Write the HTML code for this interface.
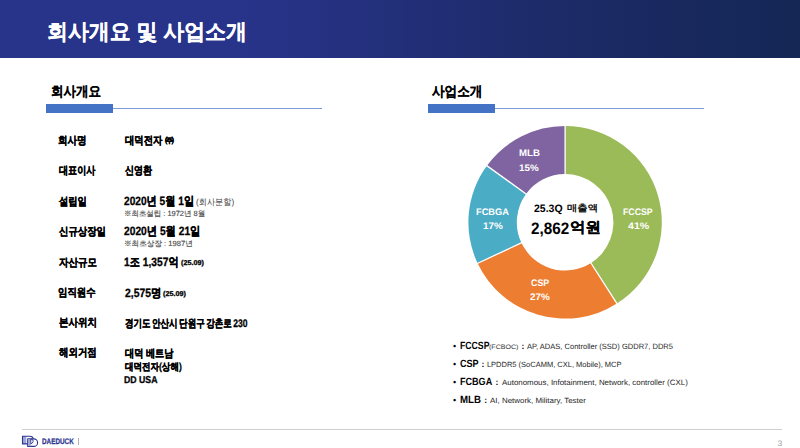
<!DOCTYPE html>
<html lang="ko">
<head>
<meta charset="utf-8">
<title>회사개요 및 사업소개</title>
<style>
html,body{margin:0;padding:0;background:#fff;}
body{width:800px;height:448px;position:relative;overflow:hidden;font-family:"Liberation Sans",sans-serif;color:#000;text-rendering:geometricPrecision;}
.t{position:absolute;white-space:nowrap;line-height:1;transform-origin:0 0;}
#hdr{position:absolute;left:0;top:0;width:800px;height:58.4px;background:linear-gradient(90deg,#28348a 0%,#28348a 30%,#1c2a66 72%,#142755 100%);}
.bar{position:absolute;top:104.3px;height:8.5px;width:67px;background:#4472c4;}
.ln{position:absolute;top:108px;height:1px;background:#7b9bd8;}
</style>
</head>
<body>
<div id="hdr"></div>
<div class="bar" style="left:46px"></div>
<div class="ln" style="left:113px;width:209px"></div>
<div class="bar" style="left:428px"></div>
<div class="ln" style="left:495px;width:209px"></div>

<svg id="donut" style="position:absolute;left:0;top:0" width="800" height="448" viewBox="0 0 800 448">
<path d="M565.10 126.00A96.7 96.3 0 0 1 616.91 303.61L590.98 263.08A48.3 48.3 0 0 0 565.10 174.00Z" fill="#9bbb59"/>
<path d="M616.91 303.61A96.7 96.3 0 0 1 477.60 263.30L521.40 242.87A48.3 48.3 0 0 0 590.98 263.08Z" fill="#ed7d31"/>
<path d="M477.60 263.30A96.7 96.3 0 0 1 486.87 165.70L526.02 193.91A48.3 48.3 0 0 0 521.40 242.87Z" fill="#4bacc6"/>
<path d="M486.87 165.70A96.7 96.3 0 0 1 565.10 126.00L565.10 174.00A48.3 48.3 0 0 0 526.02 193.91Z" fill="#8064a2"/>
<path d="M565.10 175.00L565.10 125.00M590.44 262.24L617.45 304.45M522.30 242.44L476.70 263.73M526.83 194.50L486.06 165.11" stroke="#fff" stroke-width="1.3" fill="none"/>
</svg>

<div id="ftl" style="position:absolute;left:22px;top:429px;width:760px;height:1px;background:#cfcfcf"></div>
<svg id="logo" style="position:absolute;left:0;top:0" width="60" height="448" viewBox="0 0 60 448">
<g fill="none" stroke="#2c3590" stroke-width="1.1" stroke-linejoin="round">
<rect x="22.6" y="436.2" width="3.7" height="7.6" fill="#9fa5d6" stroke="none"/>
<path d="M22.5 436.2H29.6C32 436.2 33.2 437.6 33.4 439.2V443.9H22.5Z"/>
<path d="M27.7 438.9H33.6A4 3.75 0 0 1 33.6 446.4H27.7Z" fill="#fff"/>
<rect x="28" y="439.2" width="2.7" height="6.9" fill="#9fa5d6" stroke="none"/>
<path d="M30.8 439V443.8M30.8 439.2H31.8Q33.4 439.6 33.1 441.6Q32.6 443.4 30.9 443.8" stroke-width="0.9"/>
</g>
</svg>
<div id="sep" style="position:absolute;left:78px;top:438px;width:1px;height:7px;background:#b0b0b0"></div>
<div class="t" id="title" style="left:47.36px;top:21.00px;font-size:22px;font-weight:bold;-webkit-text-stroke:0.15px;color:#fff;transform:scaleX(0.951);">회사개요 및 사업소개</div>
<div class="t" id="h2a" style="left:51.20px;top:83.80px;font-size:14px;font-weight:bold;-webkit-text-stroke:0.12px;transform:scaleX(0.895);">회사개요</div>
<div class="t" id="h2b" style="left:432.36px;top:84.48px;font-size:14px;font-weight:bold;-webkit-text-stroke:0.12px;transform:scaleX(0.899);">사업소개</div>
<div class="t" id="l1" style="left:58.00px;top:135.70px;font-size:11px;font-weight:bold;-webkit-text-stroke:0.3px;transform:scaleX(0.868);">회사명</div>
<div class="t" id="l2" style="left:59.39px;top:166.01px;font-size:11px;font-weight:bold;-webkit-text-stroke:0.3px;transform:scaleX(0.826);">대표이사</div>
<div class="t" id="l3" style="left:59.22px;top:196.61px;font-size:11px;font-weight:bold;-webkit-text-stroke:0.3px;transform:scaleX(0.844);">설립일</div>
<div class="t" id="l4" style="left:59.14px;top:226.55px;font-size:11px;font-weight:bold;-webkit-text-stroke:0.3px;transform:scaleX(0.853);">신규상장일</div>
<div class="t" id="l5" style="left:59.03px;top:257.96px;font-size:11px;font-weight:bold;-webkit-text-stroke:0.3px;transform:scaleX(0.862);">자산규모</div>
<div class="t" id="l6" style="left:58.46px;top:288.15px;font-size:11px;font-weight:bold;-webkit-text-stroke:0.3px;transform:scaleX(0.855);">임직원수</div>
<div class="t" id="l7" style="left:59.06px;top:318.49px;font-size:11px;font-weight:bold;-webkit-text-stroke:0.3px;transform:scaleX(0.865);">본사위치</div>
<div class="t" id="l8" style="left:59.47px;top:348.15px;font-size:11px;font-weight:bold;-webkit-text-stroke:0.3px;transform:scaleX(0.858);">해외거점</div>
<div class="t" id="v1a" style="left:125.05px;top:136.10px;font-size:11px;font-weight:bold;-webkit-text-stroke:0.3px;transform:scaleX(0.849);">대덕전자</div>
<div class="t" id="v1b" style="left:165.03px;top:136.09px;font-size:9px;font-weight:bold;-webkit-text-stroke:0.3px;transform:scaleX(0.985);">㈜</div>
<div class="t" id="v2" style="left:125.04px;top:166.16px;font-size:11px;font-weight:bold;-webkit-text-stroke:0.3px;transform:scaleX(0.816);">신영환</div>
<div class="t" id="v3a" style="left:124.43px;top:195.38px;font-size:12px;font-weight:bold;-webkit-text-stroke:0.3px;transform:scaleX(0.847);">2020년 5월 1일</div>
<div class="t" id="v3b" style="left:196.33px;top:197.58px;font-size:9px;color:#404040;transform:scaleX(0.910);">(회사분할)</div>
<div class="t" id="s3" style="left:124.23px;top:209.90px;font-size:7.5px;color:#4a4a4a;-webkit-text-stroke:0.15px;transform:scaleX(0.993);">※최초설립 : 1972년 8월</div>
<div class="t" id="v4" style="left:124.20px;top:225.45px;font-size:12px;font-weight:bold;-webkit-text-stroke:0.3px;transform:scaleX(0.854);">2020년 5월 21일</div>
<div class="t" id="s4" style="left:124.18px;top:240.04px;font-size:7.5px;color:#4a4a4a;-webkit-text-stroke:0.15px;transform:scaleX(1.013);">※최초상장 : 1987년</div>
<div class="t" id="v5a" style="left:124.34px;top:256.25px;font-size:12px;font-weight:bold;-webkit-text-stroke:0.3px;transform:scaleX(0.853);">1조 1,357억</div>
<div class="t" id="v5b" style="left:181.17px;top:260.06px;font-size:7px;font-weight:bold;-webkit-text-stroke:0.3px;transform:scaleX(1.032);">(25.09)</div>
<div class="t" id="v6a" style="left:124.85px;top:287.23px;font-size:12px;font-weight:bold;-webkit-text-stroke:0.3px;transform:scaleX(0.863);">2,575명</div>
<div class="t" id="v6b" style="left:162.81px;top:291.06px;font-size:7px;font-weight:bold;-webkit-text-stroke:0.3px;transform:scaleX(1.032);">(25.09)</div>
<div class="t" id="v7" style="left:124.96px;top:318.50px;font-size:11px;font-weight:bold;-webkit-text-stroke:0.3px;word-spacing:-1.2px;transform:scaleX(0.776);">경기도 안산시 단원구 강촌로 230</div>
<div class="t" id="v8" style="left:124.84px;top:349.04px;font-size:11px;font-weight:bold;-webkit-text-stroke:0.3px;transform:scaleX(0.834);">대덕 베트남</div>
<div class="t" id="v9" style="left:125.16px;top:362.96px;font-size:10px;font-weight:bold;-webkit-text-stroke:0.3px;transform:scaleX(0.851);">대덕전자(상해)</div>
<div class="t" id="v10" style="left:124.31px;top:375.91px;font-size:10px;font-weight:bold;-webkit-text-stroke:0.3px;transform:scaleX(0.872);">DD USA</div>
<div class="t" id="p1a" style="left:623.16px;top:207.79px;font-size:9.5px;font-weight:bold;color:#fff;transform:scaleX(0.922);">FCCSP</div>
<div class="t" id="p1b" style="left:628.13px;top:222.49px;font-size:9.5px;font-weight:bold;color:#fff;transform:scaleX(1.114);">41%</div>
<div class="t" id="p2a" style="left:531.35px;top:278.98px;font-size:9.5px;font-weight:bold;color:#fff;transform:scaleX(0.937);">CSP</div>
<div class="t" id="p2b" style="left:530.28px;top:293.00px;font-size:9.5px;font-weight:bold;color:#fff;transform:scaleX(1.040);">27%</div>
<div class="t" id="p3a" style="left:476.21px;top:207.74px;font-size:9.5px;font-weight:bold;color:#fff;transform:scaleX(0.975);">FCBGA</div>
<div class="t" id="p3b" style="left:483.20px;top:222.30px;font-size:9.5px;font-weight:bold;color:#fff;transform:scaleX(1.042);">17%</div>
<div class="t" id="p4a" style="left:518.57px;top:148.78px;font-size:9.5px;font-weight:bold;color:#fff;transform:scaleX(1.014);">MLB</div>
<div class="t" id="p4b" style="left:519.42px;top:164.20px;font-size:9.5px;font-weight:bold;color:#fff;transform:scaleX(1.034);">15%</div>
<div class="t" id="c1a" style="left:533.72px;top:203.60px;font-size:10.8px;font-weight:bold;transform:scaleX(0.973);">25.3Q</div>
<div class="t" id="c1b" style="left:566.80px;top:204.46px;font-size:9.3px;-webkit-text-stroke:0.3px;transform:scaleX(1.110);">매출액</div>
<div class="t" id="c2a" style="left:531.17px;top:220.60px;font-size:16.6px;font-weight:bold;transform:scaleX(0.919);">2,862</div>
<div class="t" id="c2b" style="left:569.54px;top:220.95px;font-size:14.5px;font-weight:bold;-webkit-text-stroke:0.25px;transform:scaleX(1.065);">억원</div>
<div class="t" id="b1o" style="left:453.09px;top:341.54px;font-size:9px;">•</div>
<div class="t" id="b1a" style="left:460.25px;top:340.90px;font-size:10.5px;font-weight:bold;transform:scaleX(0.827);">FCCSP</div>
<div class="t" id="b1b" style="left:489.37px;top:344.90px;font-size:6.4px;color:#333;transform:scaleX(1.106);">(FCBOC)</div>
<div class="t" id="b1c" style="left:521.40px;top:341.90px;font-size:8.6px;font-weight:bold;">:</div>
<div class="t" id="b1d" style="left:526.57px;top:342.90px;font-size:7.7px;color:#262626;transform:scaleX(0.980);">AP, ADAS, Controller (SSD) GDDR7, DDR5</div>
<div class="t" id="b2o" style="left:453.09px;top:359.99px;font-size:9px;">•</div>
<div class="t" id="b2a" style="left:459.84px;top:359.00px;font-size:10.5px;font-weight:bold;transform:scaleX(0.862);">CSP</div>
<div class="t" id="b2c" style="left:481.60px;top:360.00px;font-size:8.6px;font-weight:bold;">:</div>
<div class="t" id="b2d" style="left:486.91px;top:361.00px;font-size:7.5px;color:#262626;">LPDDR5 (SoCAMM, CXL, Mobile), MCP</div>
<div class="t" id="b3o" style="left:453.09px;top:377.64px;font-size:9px;">•</div>
<div class="t" id="b3a" style="left:460.01px;top:377.10px;font-size:10.5px;font-weight:bold;transform:scaleX(0.863);">FCBGA</div>
<div class="t" id="b3c" style="left:495.51px;top:378.10px;font-size:8.6px;font-weight:bold;">:</div>
<div class="t" id="b3d" style="left:501.71px;top:379.10px;font-size:7.8px;color:#262626;transform:scaleX(1.016);">Autonomous, Infotainment, Network, controller (CXL)</div>
<div class="t" id="b4o" style="left:453.09px;top:396.14px;font-size:9px;">•</div>
<div class="t" id="b4a" style="left:459.76px;top:395.20px;font-size:10.5px;font-weight:bold;transform:scaleX(0.920);">MLB</div>
<div class="t" id="b4c" style="left:484.19px;top:396.20px;font-size:8.6px;font-weight:bold;">:</div>
<div class="t" id="b4d" style="left:489.95px;top:397.20px;font-size:7.5px;color:#262626;transform:scaleX(1.058);">AI, Network, Military, Tester</div>
<div class="t" id="dk" style="left:42.05px;top:437.75px;font-size:8px;font-weight:bold;color:#2c3590;-webkit-text-stroke:0.25px;transform:scaleX(0.794);">DAEDUCK</div>
<div class="t" id="pg" style="left:777.64px;top:439.52px;font-size:8px;color:#999;">3</div>
</body>
</html>
